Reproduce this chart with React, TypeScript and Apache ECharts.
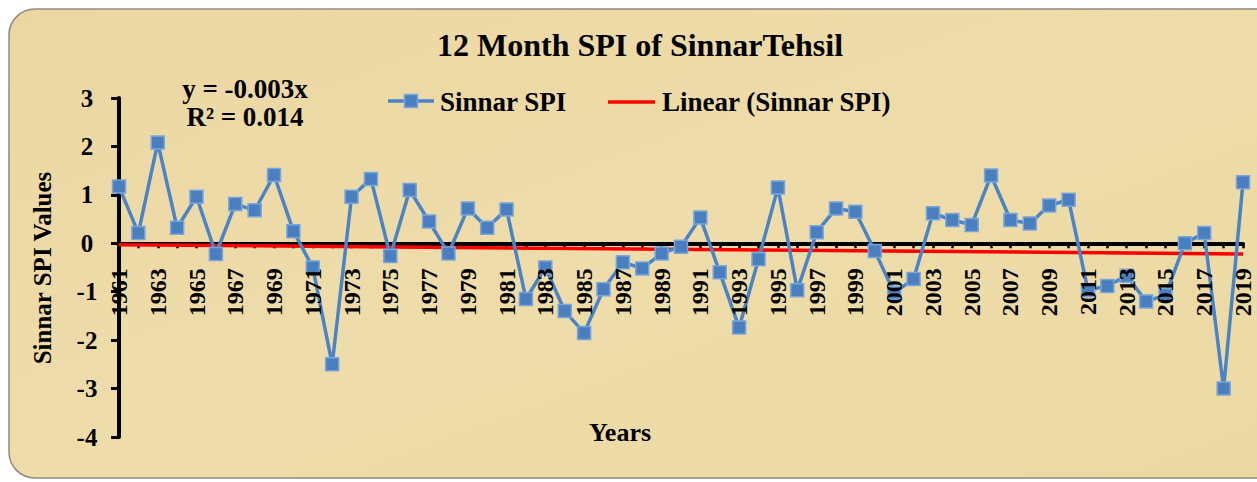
import React, { useEffect, useRef } from "react";
import * as echarts from "echarts";

const years: string[] = [
  "1961", "1962", "1963", "1964", "1965", "1966", "1967", "1968", "1969", "1970",
  "1971", "1972", "1973", "1974", "1975", "1976", "1977", "1978", "1979", "1980",
  "1981", "1982", "1983", "1984", "1985", "1986", "1987", "1988", "1989", "1990",
  "1991", "1992", "1993", "1994", "1995", "1996", "1997", "1998", "1999", "2000",
  "2001", "2002", "2003", "2004", "2005", "2006", "2007", "2008", "2009", "2010",
  "2011", "2012", "2013", "2014", "2015", "2016", "2017", "2018", "2019",
];

const spiValues: number[] = [
  1.17, 0.21, 2.08, 0.32, 0.96, -0.22, 0.81, 0.68, 1.41, 0.25,
  -0.5, -2.5, 0.96, 1.33, -0.26, 1.1, 0.45, -0.21, 0.72, 0.32,
  0.7, -1.15, -0.5, -1.4, -1.85, -0.95, -0.39, -0.52, -0.21, -0.07,
  0.53, -0.6, -1.74, -0.33, 1.15, -0.97, 0.23, 0.72, 0.65, -0.16,
  -1.02, -0.74, 0.62, 0.48, 0.38, 1.4, 0.48, 0.41, 0.78, 0.9,
  -0.97, -0.88, -0.67, -1.2, -1.07, 0.0, 0.21, -3.0, 1.26,
];

const trendStart = -0.03;
const trendEnd = -0.22;

const yTicks = { min: -4, max: 3, interval: 1 };

const SERIF = "'Times New Roman', 'Liberation Serif', serif";

// layout
const GRID_LEFT = 119;
const GRID_RIGHT = 14;
const GRID_TOP = 98;
const GRID_BOTTOM = 45;
const H = 482;
const plotH = H - GRID_TOP - GRID_BOTTOM;
const zeroY = GRID_TOP + (plotH * yTicks.max) / (yTicks.max - yTicks.min);

export default function App() {
  const ref = useRef<HTMLDivElement>(null);

  useEffect(() => {
    if (!ref.current) return;
    const chart = echarts.init(ref.current, null, { renderer: "svg" });
    const txt = (text: string, x: number, y: number, size: number, align: string = "center") => ({
      type: "text",
      x,
      y,
      style: {
        text,
        fontFamily: SERIF,
        fontWeight: "bold",
        fontSize: size,
        fill: "#000",
        align,
        verticalAlign: "middle",
      },
    });
    chart.setOption({
      animation: false,
      backgroundColor: "#ffffff",
      textStyle: { fontFamily: SERIF },
      graphic: [
        {
          type: "rect",
          z: -100,
          silent: true,
          shape: { x: 9, y: 9, width: 1275, height: 469, r: 26 },
          style: {
            fill: {
              type: "linear",
              x: 0, y: 0, x2: 1, y2: 1,
              colorStops: [
                { offset: 0, color: "#ebd7a2" },
                { offset: 0.5, color: "#eedcaa" },
                { offset: 1, color: "#ecd9a2" },
              ],
            },
            stroke: "#8e8a80",
            lineWidth: 1.5,
          },
        },
        txt("12 Month SPI of SinnarTehsil", 640, 45, 32),
        txt("y = -0.003x", 245, 89, 27),
        txt("R² = 0.014", 245, 117, 27),
        txt("Years", 620, 432, 26),
        { ...txt("Sinnar SPI Values", 42, 268, 25), rotation: Math.PI / 2 },
        // legend
        {
          type: "line",
          shape: { x1: 388, y1: 101, x2: 434, y2: 101 },
          style: { stroke: "#4a84c6", lineWidth: 3.5 },
        },
        {
          type: "rect",
          shape: { x: 404.5, y: 94.5, width: 13, height: 13 },
          style: { fill: "#4a7fbf", stroke: "#78a6dc", lineWidth: 1.5 },
        },
        txt("Sinnar SPI", 440, 102, 27, "left"),
        {
          type: "line",
          shape: { x1: 608, y1: 102, x2: 655, y2: 102 },
          style: { stroke: "#ff0000", lineWidth: 3.5 },
        },
        txt("Linear (Sinnar SPI)", 662, 102, 27, "left"),
      ],
      grid: [
        { left: GRID_LEFT, right: GRID_RIGHT, top: GRID_TOP, bottom: GRID_BOTTOM, containLabel: false },
        { left: GRID_LEFT, right: GRID_RIGHT, top: GRID_TOP, bottom: H - zeroY, containLabel: false },
      ],
      xAxis: [
        {
          type: "category",
          gridIndex: 0,
          data: years,
          boundaryGap: false,
          axisLine: { onZero: true, lineStyle: { color: "#000", width: 4 } },
          axisTick: { show: true, interval: 0, length: 5, lineStyle: { color: "#000", width: 2.5 } },
          axisLabel: { show: false },
          splitLine: { show: false },
        },
        {
          type: "category",
          gridIndex: 1,
          data: years,
          boundaryGap: false,
          z: 10,
          axisLine: { show: false },
          axisTick: { show: false },
          axisLabel: {
            interval: 1,
            rotate: 90,
            margin: 25,
            fontFamily: SERIF,
            fontWeight: "bold",
            fontSize: 24,
            color: "#000",
          },
          splitLine: { show: false },
        },
      ],
      yAxis: [
        {
          type: "value",
          gridIndex: 0,
          min: yTicks.min,
          max: yTicks.max,
          interval: yTicks.interval,
          axisLine: { show: true, onZero: false, lineStyle: { color: "#000", width: 4 } },
          axisTick: { show: true, length: 8, lineStyle: { color: "#000", width: 3 } },
          axisLabel: {
            margin: 32,
            align: "center",
            fontFamily: SERIF,
            fontWeight: "bold",
            fontSize: 25,
            color: "#000",
          },
          splitLine: { show: false },
        },
        {
          type: "value",
          gridIndex: 1,
          min: 0,
          max: 1,
          show: false,
        },
      ],
      series: [
        {
          name: "Linear (Sinnar SPI)",
          type: "line",
          xAxisIndex: 0,
          yAxisIndex: 0,
          data: [
            [years[0], trendStart],
            [years[years.length - 1], trendEnd],
          ],
          symbol: "none",
          lineStyle: { color: "#ff0000", width: 3.5 },
          itemStyle: { color: "#ff0000" },
          z: 3,
        },
        {
          name: "Sinnar SPI",
          type: "line",
          xAxisIndex: 0,
          yAxisIndex: 0,
          data: spiValues,
          symbol: "rect",
          symbolSize: 13,
          showAllSymbol: true,
          lineStyle: { color: "#4a84c6", width: 3.5 },
          itemStyle: { color: "#4a7fbf", borderColor: "#78a6dc", borderWidth: 1.5 },
          z: 4,
        },
      ],
    });
    return () => chart.dispose();
  }, []);

  return (
    <div
      ref={ref}
      style={{ position: "absolute", left: 0, top: 0, width: 1257, height: 482 }}
    />
  );
}
